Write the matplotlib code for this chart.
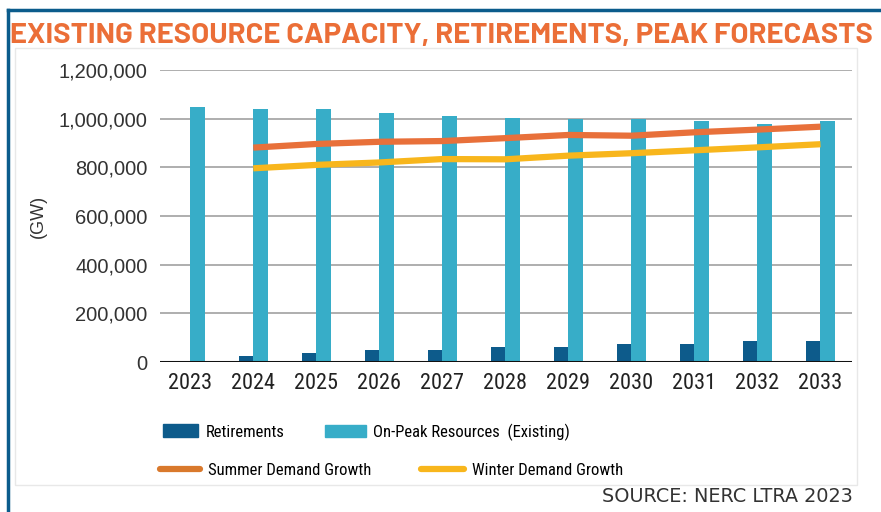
import numpy as np
import matplotlib
matplotlib.use("Agg")
import matplotlib.pyplot as plt
from matplotlib.lines import Line2D
from matplotlib.patches import Rectangle, Patch
from matplotlib.ticker import FuncFormatter

# dados
anos = ["2023", "2024", "2025", "2026", "2027", "2028", "2029", "2030", "2031", "2032", "2033"]
aposentadorias = [5000, 26000, 37000, 49000, 49000, 62000, 62000, 74000, 74000, 86000, 86000]
recursos_pico = [1049000, 1038000, 1038000, 1025000, 1012000, 1001000, 1000000, 1000000, 990000, 978000, 990000]
anos_demanda = ["2024", "2025", "2026", "2027", "2028", "2029", "2030", "2031", "2032", "2033"]
demanda_verao = [881000, 896000, 905000, 908000, 920000, 933000, 930000, 944000, 955000, 967000]
demanda_inverno = [796000, 810000, 820000, 834000, 833000, 848000, 858000, 870000, 882000, 895000]
y_ticks = [0, 200000, 400000, 600000, 800000, 1000000, 1200000]

cor_ret = "#0d5b8b"
cor_pico = "#37adc8"
cor_verao = "#e8703a"
cor_inverno = "#f8b61c"
cor_borda = "#0b5c8c"

estreita = "Roboto Condensed"

W, H = 881, 512
fig = plt.figure(figsize=(W / 100, H / 100), dpi=100)
fig.patch.set_facecolor("white")

def fx(px):
    return px / W

def fy(py):
    return 1 - py / H

# moldura
fig.add_artist(Line2D([fx(8), fx(8)], [fy(10), 0], color=cor_borda, lw=2.5, transform=fig.transFigure))
fig.add_artist(Line2D([fx(8), 1], [fy(10), fy(10)], color=cor_borda, lw=2.5, transform=fig.transFigure))
fig.add_artist(Rectangle((fx(15), fy(485)), fx(857) - fx(15), fy(48) - fy(485), fill=False,
                         edgecolor="#e8e8e8", lw=1, transform=fig.transFigure))

ax = fig.add_axes([fx(160), fy(362), fx(852) - fx(160), fy(70) - fy(362)])

x = np.arange(len(anos))
w = 0.23
ax.bar(x - w / 2, aposentadorias, width=w, color=cor_ret, zorder=3)
ax.bar(x + w / 2, recursos_pico, width=w, color=cor_pico, zorder=3)

xd = [anos.index(a) for a in anos_demanda]
ax.plot(xd, demanda_verao, color=cor_verao, lw=4.5, solid_capstyle="butt", zorder=4)
ax.plot(xd, demanda_inverno, color=cor_inverno, lw=4.5, solid_capstyle="butt", zorder=4)

ax.set_xlim(-0.48, 10.5)
ax.set_ylim(0, 1200000)
ax.set_yticks(y_ticks)
ax.yaxis.set_major_formatter(FuncFormatter(lambda v, p: f"{int(v):,}"))
ax.set_xticks(x)
ax.set_xticklabels(anos, family=estreita, fontsize=16, color="#222222")
for t in ax.get_yticklabels():
    t.set_family("Liberation Sans")
    t.set_fontsize(14.5)
    t.set_color("#333333")
ax.tick_params(axis="both", length=0)
ax.tick_params(axis="y", pad=9)
ax.tick_params(axis="x", pad=8)
ax.grid(axis="y", color="#a8a8a8", lw=1.3, zorder=0)
for s in ax.spines.values():
    s.set_visible(False)
ax.axhline(0, color="#111111", lw=2.2, zorder=5)
ax.set_ylabel("(GW)", family="Liberation Sans", fontsize=13, color="#333333")
ax.yaxis.set_label_coords((47 - 160) / 692, 0.5)

# legenda
itens = [
    (Patch(color=cor_ret), "Retirements", 163, 432, 2.1),
    (Patch(color=cor_pico), "On-Peak Resources  (Existing)", 325, 432, 2.45),
    (Line2D([], [], color="#d9792c", lw=4.5, solid_capstyle="round"), "Summer Demand Growth", 160, 470, 2.4),
    (Line2D([], [], color=cor_inverno, lw=4.5, solid_capstyle="round"), "Winter Demand Growth", 421, 470, 2.6),
]
for h, rot, px, py, hl in itens:
    fig.legend(handles=[h], labels=[rot], loc="center left", bbox_to_anchor=(fx(px), fy(py)),
               frameon=False, borderpad=0, borderaxespad=0, handlelength=hl, handleheight=0.8,
               handletextpad=0.45, prop={"family": estreita, "size": 12})

titulo = fig.text(fx(10), fy(35), "EXISTING RESOURCE CAPACITY, RETIREMENTS, PEAK FORECASTS",
                  ha="left", va="center", color="#eb6e37", fontsize=20, fontweight="bold",
                  family="Barlow")
fig.canvas.draw()
larg = titulo.get_window_extent().width
titulo.set_fontsize(20 * 863 / larg)

fig.text(fx(853), fy(497), "SOURCE: NERC LTRA 2023", ha="right", va="center",
         color="#333333", fontsize=13.9, family="DejaVu Sans")

fig.savefig("out.png", dpi=100)
